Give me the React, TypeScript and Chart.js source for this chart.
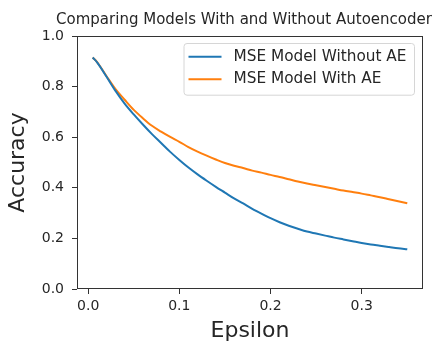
import { useEffect, useRef } from "react";
import { Chart, registerables } from "chart.js";

Chart.register(...registerables);

const epsilon = [
  0.005, 0.01, 0.02, 0.03, 0.04, 0.05, 0.06, 0.07, 0.08, 0.09, 0.1, 0.11, 0.12,
  0.13, 0.14, 0.15, 0.16, 0.17, 0.18, 0.19, 0.2, 0.21, 0.22, 0.23, 0.24, 0.25,
  0.26, 0.27, 0.28, 0.29, 0.3, 0.31, 0.32, 0.33, 0.34, 0.35,
];
const accWithoutAE = [
  0.915, 0.895, 0.84, 0.783, 0.733, 0.69, 0.65, 0.612, 0.577, 0.542, 0.51,
  0.48, 0.453, 0.428, 0.404, 0.381, 0.358, 0.338, 0.317, 0.298, 0.28, 0.264,
  0.25, 0.238, 0.227, 0.219, 0.211, 0.203, 0.196, 0.189, 0.182, 0.176, 0.171,
  0.166, 0.161, 0.157,
];
const accWithAE = [
  0.915, 0.896, 0.842, 0.79, 0.748, 0.708, 0.675, 0.645, 0.622, 0.601, 0.582,
  0.561, 0.543, 0.527, 0.512, 0.498, 0.487, 0.478, 0.468, 0.46, 0.451, 0.443,
  0.434, 0.425, 0.417, 0.41, 0.403, 0.396, 0.389, 0.383, 0.377, 0.37, 0.363,
  0.355, 0.347, 0.339,
];
const seriesLabels = ["MSE Model Without AE", "MSE Model With AE"];
const seriesColors = ["#1f77b4", "#ff7f0e"];
const xTicks = [0.0, 0.1, 0.2, 0.3];
const yTicks = [0.0, 0.2, 0.4, 0.6, 0.8, 1.0];
const titleText = "Comparing Models With and Without Autoencoder";
const xTitle = "Epsilon";
const yTitle = "Accuracy";

const FONT = "'DejaVu Sans', sans-serif";
const AXIS_COLOR = "#333333";
const TEXT_COLOR = "#262626";

export default function App() {
  const canvasRef = useRef<HTMLCanvasElement | null>(null);

  useEffect(() => {
    document.body.style.margin = "0";
    const canvas = canvasRef.current;
    if (!canvas) return;

    const xRange = epsilon[epsilon.length - 1] - epsilon[0];
    const xMin = epsilon[0] - 0.05 * xRange;
    const xMax = epsilon[epsilon.length - 1] + 0.05 * xRange;

    const framePlugin = {
      id: "frame",
      afterDatasetsDraw(chart: any) {
        const { ctx, chartArea } = chart;
        ctx.save();
        ctx.strokeStyle = AXIS_COLOR;
        ctx.lineWidth = 1;
        const l = Math.round(chartArea.left) + 0.5;
        const t = Math.round(chartArea.top) + 0.5;
        const r = Math.round(chartArea.right) - 0.5;
        const b = Math.round(chartArea.bottom) - 0.5;
        ctx.strokeRect(l, t, r - l, b - t);
        ctx.restore();
      },
    };

    const titleLegendPlugin = {
      id: "titleLegend",
      afterDraw(chart: any) {
        const { ctx } = chart;
        ctx.save();
        // title
        ctx.fillStyle = TEXT_COLOR;
        ctx.font = `15px ${FONT}`;
        ctx.textAlign = "center";
        ctx.textBaseline = "middle";
        ctx.fillText(titleText, 244, 20);

        // legend
        const fontSize = 15.3;
        ctx.font = `${fontSize}px ${FONT}`;
        const boxLeft = 184;
        const boxTop = 43.5;
        const rowGap = 22.5;
        const firstRow = 56.7;
        const handleStart = 188.5;
        const handleLen = 33;
        const textStart = 233.5;
        const datasets = chart.data.datasets;
        let maxW = 0;
        datasets.forEach((d: any) => {
          maxW = Math.max(maxW, ctx.measureText(d.label).width);
        });
        const boxRight = textStart + maxW + 8;
        const boxBottom = firstRow + rowGap * (datasets.length - 1) + 16;
        const rad = 3;
        ctx.beginPath();
        ctx.moveTo(boxLeft + rad, boxTop);
        ctx.lineTo(boxRight - rad, boxTop);
        ctx.quadraticCurveTo(boxRight, boxTop, boxRight, boxTop + rad);
        ctx.lineTo(boxRight, boxBottom - rad);
        ctx.quadraticCurveTo(boxRight, boxBottom, boxRight - rad, boxBottom);
        ctx.lineTo(boxLeft + rad, boxBottom);
        ctx.quadraticCurveTo(boxLeft, boxBottom, boxLeft, boxBottom - rad);
        ctx.lineTo(boxLeft, boxTop + rad);
        ctx.quadraticCurveTo(boxLeft, boxTop, boxLeft + rad, boxTop);
        ctx.closePath();
        ctx.fillStyle = "rgba(255,255,255,0.8)";
        ctx.fill();
        ctx.strokeStyle = "#d6d6d6";
        ctx.lineWidth = 1;
        ctx.stroke();

        datasets.forEach((d: any, i: number) => {
          const y = firstRow + i * rowGap;
          ctx.strokeStyle = d.borderColor;
          ctx.lineWidth = 2;
          ctx.beginPath();
          ctx.moveTo(handleStart, y);
          ctx.lineTo(handleStart + handleLen, y);
          ctx.stroke();
          ctx.fillStyle = TEXT_COLOR;
          ctx.textAlign = "left";
          ctx.textBaseline = "middle";
          ctx.fillText(d.label, textStart, y);
        });
        ctx.restore();
      },
    };

    const makeData = (vals: number[]) =>
      epsilon.map((x, i) => ({ x, y: vals[i] }));

    const chart = new Chart(canvas, {
      type: "line",
      data: {
        datasets: [
          {
            label: seriesLabels[0],
            data: makeData(accWithoutAE),
            borderColor: seriesColors[0],
            backgroundColor: seriesColors[0],
            borderWidth: 2,
            pointRadius: 0,
            fill: false,
            cubicInterpolationMode: "monotone",
          },
          {
            label: seriesLabels[1],
            data: makeData(accWithAE),
            borderColor: seriesColors[1],
            backgroundColor: seriesColors[1],
            borderWidth: 2,
            pointRadius: 0,
            fill: false,
            cubicInterpolationMode: "monotone",
          },
        ],
      },
      options: {
        responsive: false,
        animation: false,
        devicePixelRatio: 1,
        layout: { padding: { left: 0, right: 21, top: 36, bottom: 0 } },
        plugins: {
          legend: { display: false },
          title: { display: false },
          tooltip: { enabled: false },
        },
        scales: {
          x: {
            type: "linear",
            min: xMin,
            max: xMax,
            afterBuildTicks(scale: any) {
              scale.ticks = xTicks.map((v) => ({ value: v }));
            },
            afterFit(scale: any) {
              scale.height = 54;
            },
            border: { display: false },
            grid: {
              drawOnChartArea: false,
              drawTicks: true,
              tickLength: 5,
              color: AXIS_COLOR,
              tickColor: AXIS_COLOR,
              lineWidth: 1,
            },
            ticks: {
              maxRotation: 0,
              autoSkip: false,
              padding: 4,
              color: TEXT_COLOR,
              font: { family: FONT, size: 14 },
              callback: (v: any) => Number(v).toFixed(1),
            },
            title: {
              display: true,
              text: xTitle,
              color: TEXT_COLOR,
              font: { family: FONT, size: 22, lineHeight: 1 },
              padding: { top: 0, bottom: 1 },
            },
          },
          y: {
            type: "linear",
            min: 0,
            max: 1,
            afterBuildTicks(scale: any) {
              scale.ticks = yTicks.map((v) => ({ value: v }));
            },
            afterFit(scale: any) {
              scale.width = 77;
            },
            border: { display: false },
            grid: {
              drawOnChartArea: false,
              drawTicks: true,
              tickLength: 5,
              color: AXIS_COLOR,
              tickColor: AXIS_COLOR,
              lineWidth: 1,
            },
            ticks: {
              autoSkip: false,
              padding: 8,
              color: TEXT_COLOR,
              font: { family: FONT, size: 14 },
              callback: (v: any) => Number(v).toFixed(1),
            },
            title: {
              display: true,
              text: yTitle,
              color: TEXT_COLOR,
              font: { family: FONT, size: 22, lineHeight: 1 },
              padding: { top: 7, bottom: 0 },
            },
          },
        },
      },
      plugins: [framePlugin, titleLegendPlugin],
    });

    return () => {
      chart.destroy();
    };
  }, []);

  return (
    <div style={{ width: 444, height: 343, background: "#ffffff" }}>
      <canvas ref={canvasRef} width={444} height={343} />
    </div>
  );
}
